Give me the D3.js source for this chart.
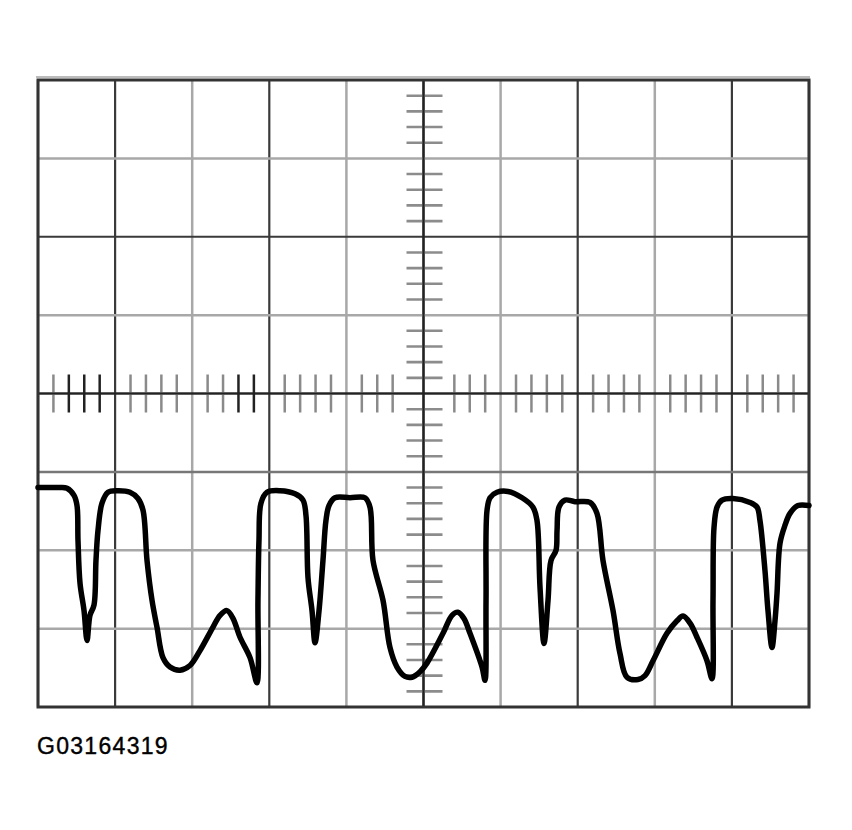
<!DOCTYPE html>
<html>
<head>
<meta charset="utf-8">
<script src="https://cdn.jsdelivr.net/npm/d3@7"></script>
<style>
  html, body { margin: 0; padding: 0; background: #fff; }
  svg { display: block; }
</style>
</head>
<body>
<script>
// ---- data (units: screen divisions) ----
const timeDiv = [0,0.285,0.376,0.467,0.506,0.519,0.545,0.597,0.636,0.674,0.726,0.752,0.778,0.830,0.908,1.025,1.193,1.297,1.362,1.414,1.479,1.543,1.621,1.712,1.842,1.971,2.101,2.270,2.361,2.451,2.529,2.620,2.750,2.840,2.853,2.866,2.892,2.970,3.139,3.333,3.437,3.476,3.502,3.554,3.593,3.645,3.696,3.735,3.774,3.852,4.047,4.241,4.306,4.345,4.475,4.565,4.656,4.760,4.851,4.955,5.045,5.253,5.370,5.447,5.525,5.603,5.759,5.798,5.811,5.824,5.863,5.953,6.096,6.278,6.420,6.472,6.511,6.563,6.615,6.654,6.719,6.732,6.757,6.835,6.965,7.160,7.250,7.328,7.458,7.549,7.639,7.782,7.873,7.977,8.158,8.288,8.366,8.457,8.547,8.677,8.742,8.755,8.768,8.807,8.872,9.014,9.235,9.326,9.364,9.429,9.468,9.520,9.559,9.585,9.624,9.689,9.754,9.857,10.0];
const voltDiv = [-1.20,-1.20,-1.21,-1.30,-1.43,-1.88,-2.42,-2.77,-3.15,-2.83,-2.70,-2.13,-1.75,-1.40,-1.26,-1.24,-1.26,-1.34,-1.49,-2.13,-2.64,-2.98,-3.37,-3.49,-3.53,-3.47,-3.28,-2.98,-2.83,-2.77,-2.87,-3.11,-3.37,-3.69,-2.64,-1.88,-1.40,-1.26,-1.24,-1.28,-1.36,-1.56,-2.35,-2.77,-3.18,-2.77,-2.13,-1.62,-1.43,-1.33,-1.33,-1.33,-1.45,-2.13,-2.64,-3.24,-3.49,-3.61,-3.62,-3.55,-3.44,-3.06,-2.83,-2.79,-2.87,-3.06,-3.49,-3.66,-2.64,-1.49,-1.33,-1.26,-1.25,-1.33,-1.45,-1.62,-2.47,-3.19,-2.64,-2.13,-2.00,-1.75,-1.45,-1.36,-1.38,-1.39,-1.53,-2.13,-2.77,-3.32,-3.62,-3.65,-3.60,-3.41,-3.06,-2.90,-2.84,-2.93,-3.11,-3.41,-3.64,-2.64,-1.71,-1.45,-1.36,-1.34,-1.39,-1.45,-1.62,-2.26,-2.77,-3.24,-2.90,-2.55,-1.91,-1.68,-1.53,-1.43,-1.43];
const xDivisions = [0,1,2,3,4,5,6,7,8,9,10];
const yDivisions = [-4,-3,-2,-1,0,1,2,3,4];
const subTicks = [0.2,0.4,0.6,0.8];
const figureLabel = "G03164319";

// ---- layout ----
const W = 852, H = 830;
const svg = d3.select("body").append("svg").attr("width", W).attr("height", H);
const x = d3.scaleLinear().domain([0,10]).range([38,809]);
const y = d3.scaleLinear().domain([-4,4]).range([707,80]);

const darkV = new Set([0,1,3,5,7,9,10]);
const darkH = new Set([4,2,0,-4]);

// grid lines
const g = svg.append("g");
xDivisions.forEach(d => {
  g.append("line").attr("x1", x(d)).attr("x2", x(d)).attr("y1", y(4)).attr("y2", y(-4))
    .attr("stroke", darkV.has(d) ? "#3a3a3a" : "#a8a8a8").attr("stroke-width", darkV.has(d) ? 2.2 : 2.5);
});
yDivisions.forEach(d => {
  g.append("line").attr("x1", x(0)).attr("x2", x(10)).attr("y1", y(d)).attr("y2", y(d))
    .attr("stroke", darkH.has(d) ? "#3a3a3a" : (d === -1 ? "#777" : "#a8a8a8")).attr("stroke-width", darkH.has(d) ? 2.2 : 2.5);
});

// minor ticks on center horizontal axis (the two next to the centre are absent)
const darkTicks = new Set(["0_0.4","0_0.6","0_0.8","2_0.6","2_0.8"]);
xDivisions.slice(0,10).forEach(d => {
  subTicks.forEach(s => {
    if ((d === 4 && s === 0.8) || (d === 5 && s === 0.2)) return;
    g.append("line").attr("x1", x(d+s)).attr("x2", x(d+s)).attr("y1", y(0)-19).attr("y2", y(0)+19)
      .attr("stroke", darkTicks.has(d+"_"+s) ? "#222" : "#8a8a8a").attr("stroke-width", 2.5);
  });
});
// minor ticks on center vertical axis
yDivisions.slice(0,8).forEach(d => {
  subTicks.forEach(s => {
    g.append("line").attr("x1", x(5)-17).attr("x2", x(5)+19).attr("y1", y(d+s)).attr("y2", y(d+s))
      .attr("stroke", "#8c8c8c").attr("stroke-width", 2.6);
  });
});
// re-draw center axes on top
g.append("line").attr("x1", x(0)).attr("x2", x(10)).attr("y1", y(0)).attr("y2", y(0)).attr("stroke", "#222").attr("stroke-width", 2.2);
g.append("line").attr("x1", x(5)).attr("x2", x(5)).attr("y1", y(4)).attr("y2", y(-4)).attr("stroke", "#222").attr("stroke-width", 2.2);

// frame
svg.append("line").attr("x1", x(0)-2).attr("x2", x(10)+1).attr("y1", y(4)-3).attr("y2", y(4)-3).attr("stroke", "#bbb").attr("stroke-width", 2);
svg.append("rect").attr("x", x(0)).attr("y", y(4)).attr("width", x(10)-x(0)).attr("height", y(-4)-y(4))
  .attr("fill", "none").attr("stroke", "#333").attr("stroke-width", 3);

// waveform
const pts = timeDiv.map((t,i) => [t, voltDiv[i]]);
const line = d3.line().x(d => x(d[0])).y(d => y(d[1])).curve(d3.curveCatmullRom.alpha(0.5));
svg.append("path").datum(pts).attr("d", line).attr("fill", "none")
  .attr("stroke", "#000").attr("stroke-width", 5.5).attr("stroke-linejoin", "round").attr("stroke-linecap", "round");

// label
svg.append("text").attr("x", 37).attr("y", 754).text(figureLabel)
  .attr("font-family", "Liberation Sans, Arial, sans-serif").attr("font-size", 23).attr("letter-spacing", 1.3)
  .attr("fill", "#000").attr("stroke", "#000").attr("stroke-width", 0.4);
</script>
</body>
</html>
